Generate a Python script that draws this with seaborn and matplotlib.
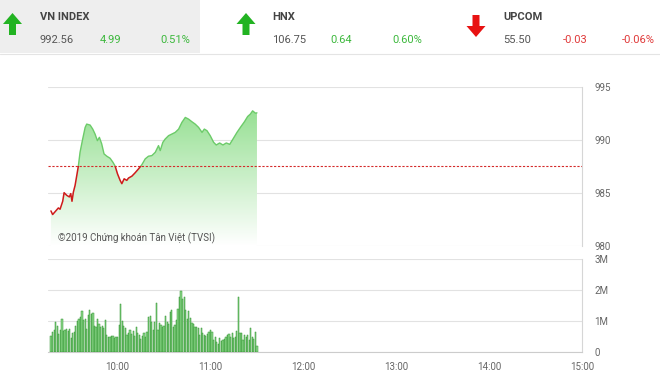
import numpy as np
import pandas as pd
import matplotlib
matplotlib.use("Agg")
import matplotlib.pyplot as plt
import seaborn as sns
from matplotlib.patches import Polygon, Rectangle
from matplotlib.colors import LinearSegmentedColormap

# ---------------- data ----------------
# price: minutes after 09:00, VN-Index value
price_minutes = [16.9, 18.0, 19.5, 21.7, 22.8, 24.5, 25.4, 27.1, 28.8, 29.7,
                 30.5, 31.4, 32.5, 33.6, 34.6, 35.7, 37.4, 39.0, 40.0, 42.2,
                 43.9, 45.4, 46.9, 48.2, 49.7, 51.2, 53.0, 55.1, 56.9, 58.4,
                 59.9, 61.6, 62.7, 64.2, 65.9, 67.0, 69.2, 71.3, 73.5, 75.6,
                 77.8, 79.9, 82.1, 84.3, 86.4, 87.5, 89.2, 90.7, 92.9, 95.0,
                 97.2, 99.4, 101.5, 103.7, 105.8, 108.0, 110.1, 112.3, 114.5, 116.0,
                 117.7, 119.8, 122.0, 123.7, 125.9, 128.0, 130.2, 132.4, 134.5, 137.1,
                 139.3, 141.9, 144.0, 145.7, 147.2, 149.0, 150.0]
price_values = [983.31, 982.97, 983.22, 983.59, 983.47, 984.22, 985.03, 984.78, 984.63, 984.94,
                984.22, 985.09, 985.72, 986.66, 987.53, 988.84, 990.09, 991.19, 991.50, 991.41,
                991.03, 990.56, 989.94, 990.25, 989.63, 988.69, 988.47, 988.28, 987.91, 987.53,
                986.81, 986.19, 985.88, 986.34, 986.19, 986.41, 986.59, 986.91, 987.28, 987.66,
                988.22, 988.47, 988.53, 988.84, 989.47, 989.00, 989.78, 990.09, 990.41, 990.56,
                990.72, 991.03, 991.66, 992.13, 991.97, 991.72, 991.50, 991.19, 990.72, 991.03,
                990.88, 990.41, 989.78, 989.53, 989.72, 989.53, 989.72, 989.59, 990.09, 990.72,
                991.19, 991.72, 992.22, 992.44, 992.75, 992.53, 992.56]
ref_value = 987.57

# volume: one bar per minute starting 09:17, millions of shares
vol_start_minute = 17
vol_values = [0.53, 0.66, 0.72, 0.98, 0.84, 0.59, 0.72, 1.06, 0.69, 0.72, 0.74, 0.68, 0.74, 0.45, 0.62,
              0.66, 0.84, 1.01, 1.08, 1.14, 1.33, 1.03, 1.08, 0.74, 1.19, 1.37, 1.22, 1.25, 0.84, 0.82,
              1.06, 0.89, 0.80, 0.84, 0.77, 1.03, 0.56, 0.48, 0.48, 0.51, 0.51, 0.45, 0.48, 0.50, 0.87,
              1.54, 1.01, 0.84, 0.77, 0.56, 0.61, 0.72, 0.59, 0.69, 0.53, 0.80, 0.61, 0.56, 0.42, 0.53, 0.60,
              0.48, 0.66, 1.14, 1.16, 0.98, 0.72, 0.98, 1.58, 0.72, 0.93, 0.87, 0.80, 0.85, 1.16, 0.98,
              0.91, 1.29, 1.37, 0.82, 0.87, 1.03, 1.40, 1.77, 1.98, 1.72, 1.79, 1.35, 1.05, 1.33, 1.10, 0.95,
              0.91, 0.80, 0.80, 0.77, 0.56, 0.77, 0.62, 0.56, 0.53, 0.59, 0.63, 0.72, 0.66, 0.40, 0.48,
              0.32, 0.27, 0.45, 0.35, 0.40, 0.42, 0.50, 0.56, 0.59, 0.48, 0.61, 0.45, 0.48, 0.69, 1.79,
              0.61, 0.61, 0.40, 0.56, 0.48, 0.55, 0.40, 0.77, 0.48, 0.42, 0.63, 0.19]

hour_ticks = [60, 120, 180, 240, 300, 360]
hour_labels = ["10:00", "11:00", "12:00", "13:00", "14:00", "15:00"]
price_ticks = [980, 985, 990, 995]
vol_ticks = [0, 1, 2, 3]
vol_tick_labels = ["0", "1M", "2M", "3M"]

idx_names = ["VN INDEX", "HNX", "UPCOM"]
idx_values = ["992.56", "106.75", "55.50"]
idx_changes = ["4.99", "0.64", "-0.03"]
idx_pcts = ["0.51%", "0.60%", "-0.06%"]
idx_up = [True, True, False]

# ---------------- style ----------------
sns.set_style("white")
plt.rcParams['font.family'] = ['Roboto', 'DejaVu Sans']

W, H = 660, 373
fig = plt.figure(figsize=(W / 100, H / 100), dpi=100)

def ax_rect(x0, y0, x1, y1):
    return [x0 / W, 1 - y1 / H, (x1 - x0) / W, (y1 - y0) / H]

# ---------------- header overlay ----------------
hax = fig.add_axes([0, 0, 1, 1])
hax.set_xlim(0, W)
hax.set_ylim(H, 0)
hax.axis("off")
hax.patch.set_visible(False)
hax.add_patch(Rectangle((0, 0), 200, 53, color="#eeeeee", lw=0, zorder=0))
hax.plot([0, W], [54, 54], color="#e4e4e4", lw=0.8)

arrow_x = [12.5, 246, 476]
text_x = [40, 272, 503]
chg_x = [100, 330, 563]
pct_x = [160, 392, 622]
green_c, red_c = "#3cb83c", "#e03a3a"
for i in range(3):
    cx = arrow_x[i]
    if idx_up[i]:
        pts = [(cx - 9.5, 24), (cx, 13), (cx + 9.5, 24), (cx + 3.5, 24), (cx + 3.5, 35),
               (cx - 3.5, 35), (cx - 3.5, 24)]
        ac = "#22b322"
        cc = green_c
    else:
        pts = [(cx - 9.5, 26), (cx, 37), (cx + 9.5, 26), (cx + 3.5, 26), (cx + 3.5, 15),
               (cx - 3.5, 15), (cx - 3.5, 26)]
        ac = "#e81212"
        cc = red_c
    hax.add_patch(Polygon(pts, closed=True, color=ac, lw=0))
    hax.text(text_x[i], 17, idx_names[i], fontsize=8, fontweight="bold", color="#444444",
             va="center", ha="left")
    hax.text(text_x[i], 40, idx_values[i], fontsize=8, color="#555555", va="center", ha="left")
    hax.text(chg_x[i], 40, idx_changes[i], fontsize=8, color=cc, va="center", ha="left")
    hax.text(pct_x[i], 40, idx_pcts[i], fontsize=8, color=cc, va="center", ha="left")

# ---------------- price panel ----------------
XMIN, XMAX = 15, 360
ax = fig.add_axes(ax_rect(48, 87, 582, 246))
ax.patch.set_visible(False)
pdf = pd.DataFrame({"minute": price_minutes, "value": price_values})

fill = ax.fill_between(pdf["minute"], pdf["value"], 980, color="none", lw=0)
cmap = LinearSegmentedColormap.from_list("g", ["#ffffff", "#7fd97b"])
grad = np.linspace(1, 0, 256).reshape(-1, 1)
im = ax.imshow(grad, extent=[XMIN, XMAX, 980, 995], aspect="auto", cmap=cmap,
               vmin=0, vmax=1.05, origin="upper", zorder=1)
im.set_clip_path(fill.get_paths()[0], transform=ax.transData)

sns.lineplot(data=pdf, x="minute", y="value", ax=ax, color="#6ccb69", lw=1.0, zorder=3)
line_up = ax.lines[-1]
line_up.set_clip_path(Rectangle((0, ref_value), 400, 30, transform=ax.transData))
sns.lineplot(data=pdf, x="minute", y="value", ax=ax, color="#cf1b1b", lw=1.1, zorder=3)
line_dn = ax.lines[-1]
line_dn.set_clip_path(Rectangle((0, 960), 400, ref_value - 960, transform=ax.transData))

ax.axhline(ref_value, color="#d42a2a", lw=0.8, ls=(0, (2, 1.5)), zorder=4)

ax.set_xlim(XMIN, XMAX)
ax.set_ylim(980, 995)
ax.set_yticks(price_ticks)
ax.set_yticklabels([str(t) for t in price_ticks])
ax.yaxis.tick_right()
ax.tick_params(axis="y", length=0, pad=9, labelsize=7, labelcolor="#666666")
ax.set_xticks([])
ax.grid(axis="y", color="#e2e2e2", lw=0.8)
ax.set_axisbelow(True)
for s in ["top", "left", "bottom"]:
    ax.spines[s].set_visible(False)
ax.spines["right"].set_color("#d6d6d6")
ax.spines["right"].set_linewidth(0.8)
ax.set_xlabel("")
ax.set_ylabel("")
ax.text(0.019, 0.05, "©2019 Chứng khoán Tân Việt (TVSI)", transform=ax.transAxes,
        fontsize=7, color="#555555", va="center", ha="left", zorder=5)

# ---------------- volume panel ----------------
axv = fig.add_axes(ax_rect(48, 259, 582, 352))
vol_minutes = np.arange(vol_start_minute, vol_start_minute + len(vol_values))
vdf = pd.DataFrame({"minute": vol_minutes.astype(float), "volume": vol_values})
sns.histplot(data=vdf, x="minute", weights="volume", binwidth=1,
             binrange=(vol_start_minute - 0.5, vol_start_minute + len(vol_values) - 0.5),
             shrink=0.8, color="#8ed98b", edgecolor="#2f922f", linewidth=0.35, alpha=1,
             ax=axv, zorder=3)
axv.set_xlim(XMIN, XMAX)
axv.set_ylim(0, 3)
axv.set_yticks(vol_ticks)
axv.set_yticklabels(vol_tick_labels)
axv.yaxis.tick_right()
axv.tick_params(axis="y", length=0, pad=9, labelsize=7, labelcolor="#666666")
axv.set_xticks(hour_ticks)
axv.set_xticklabels(hour_labels)
axv.tick_params(axis="x", length=4, width=0.8, color="#cccccc", pad=3,
                labelsize=7, labelcolor="#666666", direction="out")
axv.grid(axis="y", color="#e2e2e2", lw=0.8)
axv.grid(axis="x", visible=False)
axv.set_axisbelow(True)
for s in ["top", "left"]:
    axv.spines[s].set_visible(False)
axv.spines["right"].set_color("#d6d6d6")
axv.spines["right"].set_linewidth(0.8)
axv.spines["bottom"].set_color("#cccccc")
axv.spines["bottom"].set_linewidth(0.8)
axv.set_xlabel("")
axv.set_ylabel("")

fig.savefig("out.png", dpi=100)
